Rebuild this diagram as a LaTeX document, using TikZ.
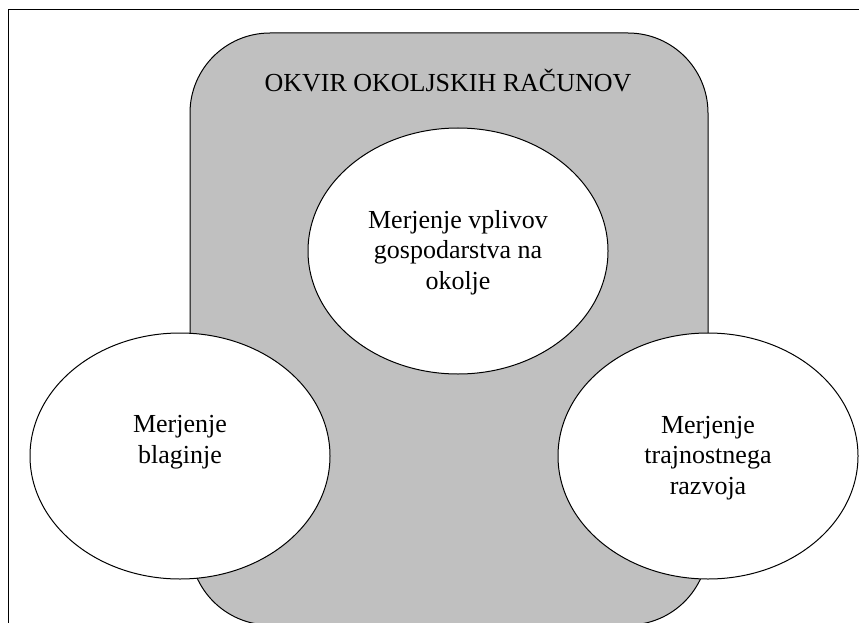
\documentclass[tikz,border=0pt]{standalone}
\usepackage{fontspec}
\setmainfont{Liberation Serif}
\usetikzlibrary{shapes.geometric}
\definecolor{framegray}{RGB}{192,192,192}
\tikzset{
  outerbox/.style={draw=black, line width=1.4pt},
  framebox/.style={draw=black, line width=1pt, fill=framegray, rectangle, rounded corners=80pt, inner sep=0pt},
  bubble/.style={draw=black, line width=1pt, fill=white, ellipse, inner sep=0pt, minimum width=300pt, minimum height=246pt},
  bubbletext/.style={align=center, anchor=base, inner sep=0pt, font=\fontsize{26}{30.5}\selectfont},
  titletext/.style={anchor=base, inner sep=0pt, font=\fontsize{26}{30.5}\selectfont}
}
\begin{document}
\begin{tikzpicture}[x=1pt,y=-1pt]
\useasboundingbox (0,0) rectangle (859,623);
\clip (0,0) rectangle (859,623);
\fill[white] (0,0) rectangle (859,623);
\node[outerbox, rectangle, inner sep=0pt, minimum width=880pt, minimum height=640pt, anchor=north west] (outer) at (8,9) {};
\node[framebox, minimum width=518pt, minimum height=592pt] (frame) at (449,329) {};
\node[titletext] (title) at (448,92) {OKVIR OKOLJSKIH RAČUNOV};
\node[bubble] (top) at (458,251) {};
\node[bubble] (left) at (180,456) {};
\node[bubble] (right) at (708,456) {};
\node[bubbletext] (toptext) at (458,289) {Merjenje vplivov\\gospodarstva na\\okolje};
\node[bubbletext] (lefttext) at (180,463) {Merjenje\\blaginje};
\node[bubbletext] (righttext) at (708,494) {Merjenje\\trajnostnega\\razvoja};
\end{tikzpicture}
\end{document}
